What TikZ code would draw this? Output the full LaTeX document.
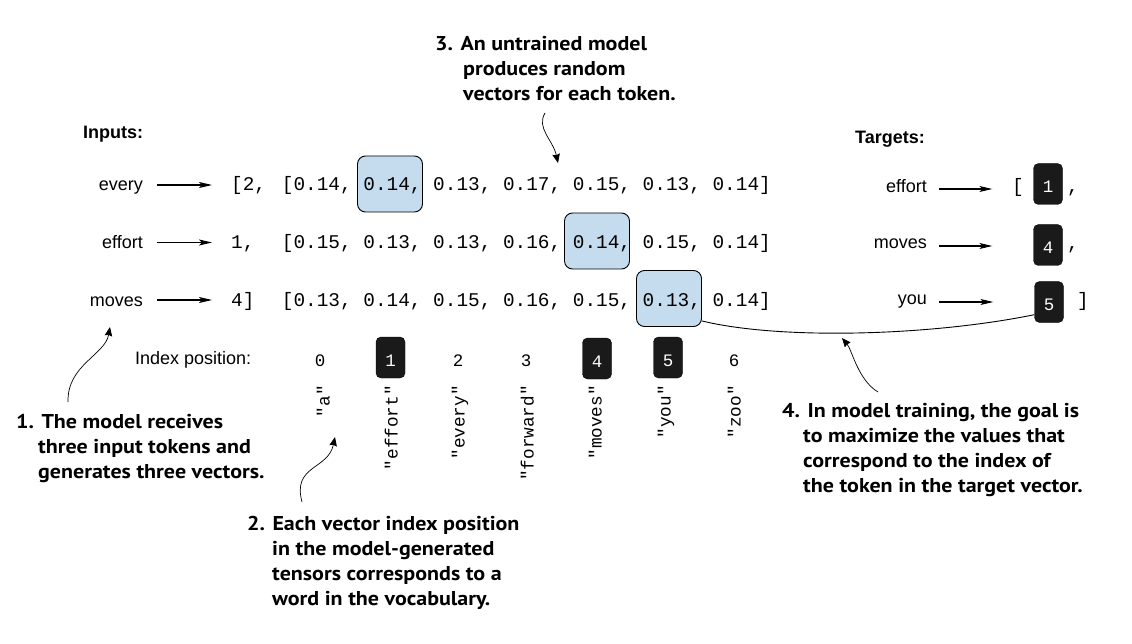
\documentclass[tikz,border=0pt]{standalone}
\usepackage{fontspec}
\setmainfont{Liberation Sans}
\setmonofont{Liberation Mono}
\newfontfamily\notef{PT Sans}[FakeStretch=1.1]
\usetikzlibrary{arrows.meta,calc}
\definecolor{hlblue}{HTML}{C4DCEE}
\definecolor{boxblack}{HTML}{1A1A1A}
\begin{document}
\begin{tikzpicture}[x=1pt,y=-1pt,
 lab/.style={inner sep=0pt, font=\fontsize{18}{20}\selectfont, anchor=base east},
 hdr/.style={inner sep=0pt, font=\fontsize{18}{20}\selectfont\bfseries, anchor=base west},
 mono/.style={inner sep=0pt, font=\ttfamily\fontsize{19.4}{22}\selectfont, anchor=base west},
 word/.style={inner sep=0pt, font=\ttfamily\fontsize{17.7}{20}\selectfont, rotate=90, anchor=mid east},
 num/.style={inner sep=0pt, font=\ttfamily\fontsize{17.5}{19}\selectfont, anchor=base},
 blk/.style={draw=black, fill=boxblack, rounded corners=5pt, minimum width=29pt, minimum height=41pt, inner sep=0pt, text=white, font=\ttfamily\fontsize{17.5}{19}\selectfont, text height=17pt, text depth=0pt},
 hl/.style={draw=black, line width=0.9pt, fill=hlblue, rounded corners=8pt, minimum width=65pt, minimum height=56pt, inner sep=0pt},
 arr/.style={line width=1.1pt, -{Stealth[length=13pt,width=6pt,inset=3pt]}},
 note/.style={inner sep=0pt, anchor=north west, align=left, font=\notef\bfseries\fontsize{20}{25}\selectfont},
 callout/.style={line width=0.7pt, -{Stealth[length=9pt,width=7.5pt,inset=1pt]}},
]
\useasboundingbox (0,0) rectangle (1132,644);
\fill[white] (0,0) rectangle (1132,644);

% headers
\node[hdr] (inputs) at (83,139) {Inputs:};
\node[hdr] (targets) at (855,144) {Targets:};

% input labels
\node[lab] (in1) at (143,191) {every};
\node[lab] (in2) at (143,248.5) {effort};
\node[lab] (in3) at (143,306) {moves};

% token ids
\node[mono] (id1) at (231,191) {[2,};
\node[mono] (id2) at (231,248.5) {1,};
\node[mono] (id3) at (231,306) {4]};

\draw[arr] ([shift={(14,-6)}]in1.base east) -- ([shift={(-19,-6)}]id1.base west);
\draw[arr] ([shift={(14,-6)}]in2.base east) -- ([shift={(-19,-6)}]id2.base west);
\draw[arr] ([shift={(14,-6)}]in3.base east) -- ([shift={(-19,-6)}]id3.base west);

% highlight boxes
\node[hl] (h1) at (390,184) {};
\node[hl] (h2) at (597,241) {};
\node[hl] (h3) at (669,298.5) {};

% vectors
\node[mono] (v1) at (281.7,191) {[0.14, 0.14, 0.13, 0.17, 0.15, 0.13, 0.14]};
\node[mono] (v2) at (281.7,248.5) {[0.15, 0.13, 0.13, 0.16, 0.14, 0.15, 0.14]};
\node[mono] (v3) at (281.7,306) {[0.13, 0.14, 0.15, 0.16, 0.15, 0.13, 0.14]};

% targets
\node[lab] (tg1) at (927,193) {effort};
\node[lab] (tg2) at (927,249) {moves};
\node[lab] (tg3) at (927,305) {you};
\node[mono] (tb) at (1012,193) {[};
\node[blk] (t1) at (1048,184) {1};
\node[blk] (t4) at (1048,245) {4};
\node[blk] (t5) at (1049,302) {5};
\node[mono] (tc1) at (1067,193) {,};
\node[mono] (tc2) at (1067,250) {,};
\node[mono] (tr) at (1077,306) {]};

\draw[arr] ($(tg1.base east)+(12,-4)$) -- ($(t1.west |- tg1.base east)+(-41,-4)$);
\draw[arr] ($(tg2.base east)+(12,-3)$) -- ($(t4.west |- tg2.base east)+(-41,-3)$);
\draw[arr] ($(tg3.base east)+(12,-3)$) -- ($(t5.west |- tg3.base east)+(-41,-3)$);

% connector from highlighted value to target
\draw[line width=0.9pt] ([shift={(0,-6)}]h3.south east) .. controls (780,340) and (930,336) .. ([shift={(0,-8)}]t5.south west);

% index row
\node[lab, anchor=base west] (ipos) at (135,364) {Index position:};
\node[num] (n0) at (320,366) {0};
\node[blk] (n1) at (390.5,357.5) {1};
\node[num] (n2) at (458,366) {2};
\node[num] (n3) at (526,366) {3};
\node[blk] (n4) at (597,358.5) {4};
\node[blk] (n5) at (668,357.5) {5};
\node[num] (n6) at (734,366) {6};

% vocabulary
\node[word] (w0) at (327,385) {"a"};
\node[word] (w1) at (395,385) {"effort"};
\node[word] (w2) at (462,385) {"every"};
\node[word] (w3) at (531,385) {"forward"};
\node[word] (w4) at (599,385) {"moves"};
\node[word] (w5) at (668,385) {"you"};
\node[word] (w6) at (738,385) {"zoo"};

% annotations
\node[note] (a1) at (16,414) {1. The model receives\\\hspace*{22pt}three input tokens and\\\hspace*{22pt}generates three vectors.};
\node[note] (a2) at (247,516) {2. Each vector index position\\\hspace*{25pt}in the model-generated\\\hspace*{25pt}tensors corresponds to a\\\hspace*{25pt}word in the vocabulary.};
\node[note] (a3) at (435,36) {3. An untrained model\\\hspace*{28pt}produces random\\\hspace*{28pt}vectors for each token.};
\node[note] (a4) at (782,403) {4. In model training, the goal is\\\hspace*{21pt}to maximize the values that\\\hspace*{21pt}correspond to the index of\\\hspace*{21pt}the token in the target vector.};

% callout arrows
\coordinate (c1s) at (68,402);
\coordinate (c1e) at (110,327);
\draw[callout] (c1s) .. controls (67,365) and (105,355) .. (c1e);
\coordinate (c2s) at (302,502);
\coordinate (c2e) at (335,437);
\draw[callout] (c2s) .. controls (292,465) and (328,470) .. (c2e);
\coordinate (c3s) at (545,113);
\coordinate (c3e) at (558,163);
\draw[callout] (c3s) .. controls (536,128) and (553,140) .. (c3e);
\coordinate (c4s) at (878,392);
\coordinate (c4e) at (842,338);
\draw[callout] (c4s) .. controls (858,380) and (852,350) .. (c4e);
\end{tikzpicture}
\end{document}
